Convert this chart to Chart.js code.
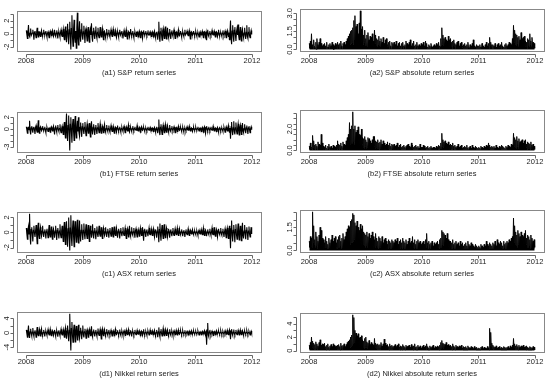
<!DOCTYPE html>
<html>
<head>
<meta charset="utf-8">
<script src="https://cdn.jsdelivr.net/npm/chart.js@4.4.1/dist/chart.umd.min.js"></script>
<style>
  html, body { margin: 0; padding: 0; background: #fff; }
  #wrap { position: relative; width: 550px; height: 382px; overflow: hidden; }
  canvas { position: absolute; }
</style>
</head>
<body>
<div id="wrap"></div>
<script>
// returns, two values a week, Jan 2008 - Dec 2011, one row per quarter
const spRet = [
  0.5, -0.1, -0.7, 0.2, 1.3, -0.2, -0.4, 0.1, 0.8, -0.3, -0.3, 0.1, 0.6, 0.0, -0.9, 0.2, 0.4, -0.1, -0.6, 0.2, 0.9, -0.1, -0.5, 0.3, 0.3, -0.2,
  -0.4, 0.1, 0.5, -0.2, -0.3, 0.1, 0.6, -0.1, -0.2, 0.2, 0.4, -0.1, -0.5, 0.1, 0.3, -0.2, -0.6, 0.1, 0.4, 0.0, -0.3, 0.2, 0.5, -0.1, -0.4, 0.1,
  0.6, -0.2, -0.4, 0.1, 0.5, -0.1, -0.7, 0.2, 0.3, -0.1, -0.5, 0.2, 0.6, -0.2, -0.4, 0.1, 0.7, -0.3, -0.9, 0.2, 1.1, -0.3, -1.3, 0.4, 1.5, -0.5,
  -1.6, 0.6, 1.8, -0.4, -2.4, 0.8, 2.8, -0.5, -1.9, 0.7, 2.1, -0.6, -1.3, 0.4, -2.2, 0.9, 3.2, -0.7, -1.7, 0.5, 1.9, -0.4, -1.2, 0.6, 1.6, -0.3,
  -0.9, 0.3, 1.2, -0.2, -1.4, 0.5, 0.8, -0.3, -1.1, 0.2, 1.0, -0.4, -1.3, 0.3, 0.7, -0.2, 1.6, -0.5, -1.2, 0.3, 0.9, -0.2, -0.8, 0.4, 1.1, -0.3,
  -0.7, 0.2, 0.9, -0.3, -0.6, 0.1, 1.0, -0.2, -0.5, 0.2, 0.8, -0.1, -0.9, 0.3, 0.4, -0.2, -0.6, 0.1, 0.7, -0.2, -0.3, 0.1, 0.6, -0.2, -0.5, 0.1,
  0.6, -0.1, -0.4, 0.2, 0.7, -0.1, -0.3, 0.1, 0.5, -0.2, -0.6, 0.1, 0.3, -0.1, -0.5, 0.2, 0.6, -0.1, -0.3, 0.2, 0.4, -0.1, -0.7, 0.1, 0.5, -0.2,
  -0.4, 0.1, 0.6, -0.2, -0.8, 0.1, 0.3, -0.1, -0.5, 0.2, 0.7, -0.1, -0.3, 0.1, 0.4, -0.2, -0.6, 0.1, 0.3, -0.1, -0.4, 0.2, 0.3, -0.1, -0.5, 0.1,
  0.4, -0.1, -0.6, 0.1, 0.3, -0.1, -0.7, 0.2, 0.5, -0.1, -0.2, 0.1, 0.4, -0.1, -0.3, 0.1, 0.5, -0.2, -0.2, 0.1, 0.3, -0.1, -0.4, 0.1, 0.3, -0.1,
  -0.5, 0.1, 0.4, -0.2, -0.6, 0.1, 0.3, -0.2, -0.9, 0.3, 1.8, -0.4, -1.2, 0.3, 0.9, -0.2, -1.0, 0.4, 0.8, -0.2, -0.7, 0.3, 1.1, -0.3, -0.8, 0.2,
  0.9, -0.2, -0.6, 0.1, 0.7, -0.3, -0.8, 0.2, 0.5, -0.1, -0.4, 0.2, 0.6, -0.1, -0.7, 0.2, 0.3, -0.1, -0.5, 0.1, 0.6, -0.2, -0.3, 0.1, 0.4, -0.1,
  -0.5, 0.1, 0.3, -0.1, -0.4, 0.1, 0.6, -0.2, -0.2, 0.1, 0.4, -0.1, -0.3, 0.1, 0.5, -0.1, -0.8, 0.2, 0.3, -0.1, -0.2, 0.1, 0.4, -0.1, -0.3, 0.1,
  0.3, -0.1, -0.4, 0.1, 0.2, -0.1, -0.5, 0.1, 0.3, -0.1, -0.2, 0.1, 0.4, -0.1, -0.6, 0.2, 0.3, -0.1, -0.5, 0.1, -1.0, 0.3, 0.6, -0.2, -0.4, 0.1,
  0.4, -0.1, -0.3, 0.1, 0.5, -0.1, -0.2, 0.1, 0.4, -0.1, -0.5, 0.2, 0.3, -0.1, -0.4, 0.1, 0.6, -0.2, -0.3, 0.1, 0.2, -0.1, -0.4, 0.1, 0.5, -0.1,
  -0.3, 0.1, 0.4, -0.1, -0.6, 0.2, 0.5, -0.1, -0.4, 0.2, -0.9, 0.3, 2.0, -0.6, -1.6, 0.4, 1.3, -0.3, -1.2, 0.5, 1.0, -0.2, -1.1, 0.3, 0.8, -0.2,
  1.4, -0.3, -0.9, 0.2, 1.0, -0.4, -1.1, 0.3, 0.7, -0.2, -0.6, 0.1, 0.9, -0.3, -0.8, 0.2, 1.3, -0.4, -0.7, 0.2, 1.0, -0.3, -0.6, 0.1, 0.5, -0.1
];
const ftseRet = [
  0.4, -0.1, -0.7, 0.2, 0.3, -0.1, 1.4, -0.3, -0.9, 0.2, 0.5, -0.1, -0.6, 0.2, 0.4, -0.1, -0.8, 0.3, 0.6, -0.2, -0.5, 0.1, 1.5, -0.4, -0.7, 0.2,
  0.4, -0.1, -0.3, 0.1, 0.5, -0.1, -0.2, 0.1, 0.4, -0.2, -0.6, 0.1, 0.3, -0.1, -0.4, 0.1, 0.2, -0.1, -0.5, 0.2, 0.4, -0.1, -0.3, 0.1, 0.5, -0.1,
  -0.9, 0.2, 0.6, -0.1, -0.5, 0.2, 0.7, -0.1, -0.4, 0.1, 0.8, -0.2, -0.6, 0.1, 0.5, -0.2, -0.9, 0.3, 1.2, -0.3, -1.5, 0.4, 2.6, -0.5, -2.0, 0.6,
  2.3, -0.6, -3.6, 0.8, 2.0, -0.5, -2.3, 0.7, 1.7, -0.4, -1.9, 0.6, 2.2, -0.5, -1.5, 0.3, 1.4, -0.4, 2.0, -0.6, -1.2, 0.3, 1.1, -0.2, -1.3, 0.4,
  1.0, -0.2, -0.8, 0.3, 1.2, -0.3, -1.1, 0.2, 0.9, -0.2, -0.7, 0.1, 1.0, -0.3, -1.3, 0.4, 1.3, -0.2, -0.9, 0.3, 0.8, -0.2, -1.0, 0.2, 0.7, -0.1,
  -0.8, 0.2, 1.0, -0.1, -0.6, 0.2, 0.9, -0.2, -0.7, 0.1, 0.5, -0.1, -0.6, 0.2, 0.8, -0.2, -0.5, 0.1, 0.7, -0.1, -0.4, 0.1, 0.6, -0.2, -0.5, 0.1,
  0.6, -0.1, -0.4, 0.1, 0.5, -0.2, -0.7, 0.1, 0.3, -0.1, -0.5, 0.2, 0.6, -0.1, -0.3, 0.1, 0.4, -0.1, -0.5, 0.1, 0.3, -0.1, -0.4, 0.2, 0.5, -0.1,
  -0.6, 0.1, 0.4, -0.1, -0.3, 0.1, 0.7, -0.2, -0.5, 0.1, 0.3, -0.1, -0.4, 0.1, 0.5, -0.1, -0.3, 0.1, 0.4, -0.1, -0.2, 0.1, 0.6, -0.2, -0.3, 0.1,
  0.3, -0.1, -0.5, 0.1, 0.4, -0.1, -0.2, 0.1, 0.3, -0.1, -0.4, 0.1, 0.2, -0.1, -0.3, 0.1, 0.4, -0.1, -0.2, 0.1, 0.3, -0.1, -0.3, 0.1, 0.2, -0.1,
  -0.4, 0.1, 0.3, -0.1, -0.5, 0.1, 0.4, -0.2, -0.7, 0.2, 1.6, -0.4, -1.0, 0.3, 0.8, -0.2, -0.9, 0.2, 0.7, -0.1, -0.6, 0.2, 0.8, -0.2, -0.5, 0.1,
  0.6, -0.1, -0.5, 0.1, 0.7, -0.2, -0.4, 0.1, 0.5, -0.1, -0.3, 0.1, 0.4, -0.1, -0.6, 0.2, 0.3, -0.1, -0.4, 0.1, 0.5, -0.1, -0.2, 0.1, 0.3, -0.1,
  -0.4, 0.1, 0.3, -0.1, -0.5, 0.1, 0.2, -0.1, -0.3, 0.1, 0.4, -0.1, -0.2, 0.1, 0.5, -0.1, -0.3, 0.1, 0.2, -0.1, -0.4, 0.1, 0.3, -0.1, -0.2, 0.1,
  0.3, -0.1, -0.2, 0.1, 0.4, -0.1, -0.3, 0.1, 0.2, -0.1, -0.4, 0.1, 0.3, -0.1, -0.5, 0.1, 0.4, -0.1, -0.7, 0.2, 0.5, -0.1, -0.3, 0.1, 0.4, -0.1,
  -0.3, 0.1, 0.4, -0.1, -0.2, 0.1, 0.5, -0.1, -0.3, 0.1, 0.2, -0.1, -0.4, 0.1, 0.3, -0.1, -0.5, 0.1, 0.4, -0.1, -0.3, 0.1, 0.2, -0.1, -0.4, 0.1,
  0.3, -0.1, -0.5, 0.1, 0.4, -0.1, -0.3, 0.1, 0.6, -0.2, -0.5, 0.2, -1.6, 0.4, 1.2, -0.3, -1.0, 0.2, 1.3, -0.4, -0.9, 0.2, 1.1, -0.3, -0.8, 0.2,
  0.9, -0.2, -1.0, 0.3, 0.7, -0.2, -0.9, 0.2, 1.0, -0.3, -0.6, 0.1, 0.8, -0.2, -0.7, 0.2, 0.6, -0.1, -0.8, 0.2, 0.5, -0.1, -0.6, 0.1, 0.4, -0.1
];
const asxRet = [
  0.6, -0.2, -0.9, 0.3, 0.8, -0.2, 2.5, -0.5, -1.6, 0.4, 0.7, -0.2, -1.2, 0.3, 0.9, -0.1, -0.6, 0.2, 1.0, -0.3, -1.5, 0.4, 1.3, -0.3, -0.8, 0.2,
  0.7, -0.1, -0.5, 0.2, 0.9, -0.2, -0.6, 0.1, 0.4, -0.1, -0.8, 0.2, 0.5, -0.1, -0.7, 0.2, 1.0, -0.3, -0.6, 0.1, 0.8, -0.2, -0.9, 0.2, 0.5, -0.1,
  -0.7, 0.2, 0.9, -0.2, -1.0, 0.3, 0.6, -0.1, -0.8, 0.2, 1.1, -0.3, -0.7, 0.2, 0.9, -0.2, -1.2, 0.3, 1.4, -0.4, -1.6, 0.5, 1.5, -0.4, -1.9, 0.5,
  2.0, -0.5, -2.4, 0.6, 2.3, -0.7, -1.8, 0.4, 1.6, -0.5, -1.9, 0.6, 1.5, -0.3, -1.3, 0.4, 1.7, -0.5, -1.4, 0.3, 1.6, -0.4, -1.2, 0.3, 1.1, -0.2,
  -1.0, 0.3, 1.2, -0.2, -0.9, 0.2, 1.1, -0.3, -0.8, 0.2, 1.0, -0.2, -1.2, 0.3, 0.9, -0.1, -0.7, 0.2, 1.1, -0.3, -0.8, 0.2, 0.6, -0.1, -0.9, 0.2,
  0.8, -0.2, -0.6, 0.1, 0.9, -0.2, -0.5, 0.1, 0.7, -0.2, -0.8, 0.2, 0.6, -0.1, -0.4, 0.1, 0.7, -0.2, -0.6, 0.1, 0.5, -0.1, -0.7, 0.2, 0.6, -0.1,
  -0.5, 0.1, 0.7, -0.2, -0.6, 0.1, 0.8, -0.2, -0.4, 0.1, 0.6, -0.1, -0.7, 0.2, 0.5, -0.1, -0.8, 0.2, 0.6, -0.1, -0.5, 0.1, 0.7, -0.2, -0.4, 0.1,
  0.6, -0.1, -0.8, 0.2, 0.5, -0.1, -0.6, 0.2, 0.9, -0.2, -0.5, 0.1, 0.7, -0.2, -0.4, 0.1, 0.6, -0.1, -0.7, 0.2, 0.5, -0.1, -0.6, 0.1, 0.4, -0.1,
  -0.5, 0.1, 0.6, -0.1, -0.4, 0.1, 0.7, -0.2, -1.1, 0.3, 0.5, -0.1, -0.6, 0.2, 0.4, -0.1, -0.5, 0.1, 0.6, -0.2, -0.3, 0.1, 0.5, -0.1, -0.4, 0.1,
  0.5, -0.1, -0.6, 0.2, 0.4, -0.1, -0.7, 0.2, 0.8, -0.2, -1.3, 0.4, 1.2, -0.3, -1.1, 0.3, 1.0, -0.2, -0.8, 0.2, 1.1, -0.3, -0.7, 0.2, 0.6, -0.1,
  -0.6, 0.1, 0.5, -0.1, -0.7, 0.2, 0.4, -0.1, -0.5, 0.1, 0.6, -0.2, -0.4, 0.1, 0.5, -0.1, -0.3, 0.1, 0.6, -0.1, -0.4, 0.1, 0.5, -0.1, -0.3, 0.1,
  0.4, -0.1, -0.5, 0.1, 0.3, -0.1, -0.6, 0.1, 0.4, -0.1, -0.3, 0.1, 0.5, -0.1, -0.4, 0.1, 0.3, -0.1, -0.2, 0.1, 0.4, -0.1, -0.3, 0.1, 0.2, -0.1,
  -0.3, 0.1, 0.2, -0.1, -0.4, 0.1, 0.3, -0.1, -0.2, 0.1, 0.4, -0.1, -0.3, 0.1, 0.6, -0.2, -0.4, 0.1, 0.3, -0.1, -0.5, 0.1, 0.4, -0.1, -0.3, 0.1,
  0.5, -0.1, -0.4, 0.1, 0.6, -0.2, -0.3, 0.1, 0.7, -0.2, -0.5, 0.1, 0.4, -0.1, -0.6, 0.2, 0.5, -0.1, -0.3, 0.1, 0.6, -0.2, -0.4, 0.1, 0.5, -0.1,
  -0.6, 0.1, 0.5, -0.2, -0.7, 0.2, 0.6, -0.1, -0.8, 0.2, 0.9, -0.3, -2.1, 0.5, 1.6, -0.4, -1.2, 0.3, 1.0, -0.2, -1.3, 0.4, 1.1, -0.3, -0.9, 0.2,
  1.2, -0.3, -1.0, 0.2, 0.9, -0.2, -1.1, 0.3, 1.3, -0.4, -0.8, 0.2, 1.0, -0.2, -0.9, 0.3, 0.7, -0.1, -1.0, 0.2, 0.8, -0.2, -0.6, 0.1, 0.7, -0.2
];
const nikkeiRet = [
  0.8, -0.2, -1.2, 0.3, 2.0, -0.5, -1.4, 0.3, 1.1, -0.2, -0.9, 0.2, 1.3, -0.3, -1.0, 0.2, 0.7, -0.1, -1.2, 0.3, 1.6, -0.4, -0.8, 0.2, 1.0, -0.2,
  -0.9, 0.2, 1.1, -0.3, -0.6, 0.1, 0.8, -0.2, -1.0, 0.2, 0.5, -0.1, -0.7, 0.2, 0.9, -0.2, -0.6, 0.1, 1.0, -0.3, -0.8, 0.2, 0.6, -0.1, -0.7, 0.2,
  0.8, -0.2, -0.9, 0.2, 0.6, -0.1, -1.1, 0.3, 0.7, -0.2, -0.8, 0.2, 1.0, -0.3, -0.6, 0.1, 0.9, -0.2, -1.2, 0.3, 1.4, -0.4, -1.6, 0.5, 2.0, -0.6,
  -2.3, 0.7, 5.3, -1.0, -4.9, 1.2, 3.0, -0.8, -2.6, 0.6, 2.2, -0.5, -2.5, 0.7, 1.9, -0.4, -2.0, 0.5, 2.2, -0.6, -1.6, 0.4, 1.4, -0.3, -1.8, 0.5,
  2.0, -0.5, -1.3, 0.3, 1.1, -0.2, -1.5, 0.4, 0.9, -0.2, -1.2, 0.3, 1.0, -0.2, -0.8, 0.2, 1.8, -0.5, -1.1, 0.3, 0.9, -0.2, -1.0, 0.2, 0.8, -0.2,
  -0.9, 0.2, 1.2, -0.3, -0.7, 0.2, 1.0, -0.2, -1.7, 0.4, 1.1, -0.3, -0.8, 0.2, 0.9, -0.2, -0.6, 0.1, 1.0, -0.2, -0.7, 0.2, 0.8, -0.2, -0.6, 0.1,
  0.7, -0.2, -0.9, 0.2, 0.6, -0.1, -0.8, 0.2, 1.0, -0.3, -0.5, 0.1, 0.7, -0.2, -0.6, 0.1, 0.9, -0.2, -0.7, 0.2, 0.5, -0.1, -0.8, 0.2, 0.6, -0.1,
  -0.7, 0.2, 0.8, -0.2, -0.5, 0.1, 0.9, -0.2, -0.6, 0.1, 0.7, -0.2, -1.0, 0.3, 0.5, -0.1, -0.6, 0.1, 0.8, -0.2, -0.5, 0.1, 0.7, -0.2, -0.4, 0.1,
  0.6, -0.1, -0.8, 0.2, 0.5, -0.1, -0.7, 0.2, 1.0, -0.3, -0.6, 0.1, 0.4, -0.1, -0.7, 0.2, 0.5, -0.1, -0.6, 0.1, 0.8, -0.2, -0.4, 0.1, 0.6, -0.1,
  -0.5, 0.1, 0.7, -0.2, -0.6, 0.1, 0.8, -0.2, -1.2, 0.3, 1.5, -0.4, -1.1, 0.3, 1.0, -0.2, -0.9, 0.2, 1.2, -0.3, -0.8, 0.2, 0.9, -0.2, -0.7, 0.2,
  0.8, -0.2, -0.6, 0.1, 1.0, -0.3, -0.7, 0.2, 0.5, -0.1, -0.8, 0.2, 0.6, -0.1, -0.5, 0.1, 0.7, -0.2, -0.6, 0.1, 0.8, -0.2, -0.4, 0.1, 0.6, -0.1,
  -0.5, 0.1, 0.6, -0.1, -0.4, 0.1, 0.7, -0.2, -0.5, 0.1, 0.4, -0.1, -0.6, 0.1, 0.5, -0.1, -0.3, 0.1, 0.6, -0.1, -0.4, 0.1, 0.5, -0.1, -0.3, 0.1,
  0.4, -0.1, -0.3, 0.1, 0.5, -0.1, -0.6, 0.1, 0.3, -0.1, -0.5, 0.1, 0.4, -0.1, -0.3, 0.1, 0.6, -0.1, -0.4, 0.1, -3.3, 0.8, 2.7, -0.6, -1.1, 0.3,
  0.8, -0.2, -0.6, 0.1, 0.5, -0.1, -0.7, 0.2, 0.4, -0.1, -0.5, 0.1, 0.6, -0.1, -0.3, 0.1, 0.5, -0.1, -0.4, 0.1, 0.6, -0.1, -0.5, 0.1, 0.4, -0.1,
  -0.5, 0.1, 0.6, -0.1, -0.4, 0.1, 0.7, -0.2, -0.5, 0.1, 0.8, -0.2, -1.8, 0.4, 1.0, -0.2, -0.7, 0.2, 0.9, -0.2, -0.6, 0.1, 0.8, -0.2, -0.5, 0.1,
  0.7, -0.1, -0.6, 0.1, 0.8, -0.2, -0.5, 0.1, 0.6, -0.1, -0.7, 0.2, 0.5, -0.1, -0.4, 0.1, 0.6, -0.1, -0.5, 0.1, 0.4, -0.1, -0.6, 0.1, 0.5, -0.1
];

const yearTicks = [2008, 2009, 2010, 2011, 2012];

// y ticks and the labels R kept (overlapping ones dropped)
const spTicks = [-2, -1, 0, 1, 2, 3];
const spTickLabels = ['-2', '', '0', '', '2', ''];
const spAbsTicks = [0, 0.5, 1, 1.5, 2, 2.5, 3];
const spAbsTickLabels = ['0.0', '', '', '1.5', '', '', '3.0'];
const ftseTicks = [-3, -2, -1, 0, 1, 2];
const ftseTickLabels = ['-3', '', '', '0', '', '2'];
const ftseAbsTicks = [0, 0.5, 1, 1.5, 2, 2.5, 3, 3.5];
const ftseAbsTickLabels = ['0.0', '', '', '', '2.0', '', '', ''];
const asxTicks = [-2, -1, 0, 1, 2];
const asxTickLabels = ['-2', '', '0', '', '2'];
const asxAbsTicks = [0, 0.5, 1, 1.5, 2, 2.5];
const asxAbsTickLabels = ['0.0', '', '', '1.5', '', ''];
const nikkeiTicks = [-4, -2, 0, 2, 4];
const nikkeiTickLabels = ['-4', '', '0', '', '4'];
const nikkeiAbsTicks = [0, 1, 2, 3, 4, 5];
const nikkeiAbsTickLabels = ['0', '', '2', '', '4', ''];

// half-week steps through 2008-2011
const times = spRet.map((v, i) => 2008 + (i + 0.5) / 104);

const panels = [
  { title: '(a1) S&P return series', values: spRet, ticks: spTicks, labels: spTickLabels },
  { title: '(a2) S&P absolute return series', values: spRet.map(Math.abs), ticks: spAbsTicks, labels: spAbsTickLabels, abs: true },
  { title: '(b1) FTSE return series', values: ftseRet, ticks: ftseTicks, labels: ftseTickLabels },
  { title: '(b2) FTSE absolute return series', values: ftseRet.map(Math.abs), ticks: ftseAbsTicks, labels: ftseAbsTickLabels, abs: true },
  { title: '(c1) ASX return series', values: asxRet, ticks: asxTicks, labels: asxTickLabels },
  { title: '(c2) ASX absolute return series', values: asxRet.map(Math.abs), ticks: asxAbsTicks, labels: asxAbsTickLabels, abs: true },
  { title: '(d1) Nikkei return series', values: nikkeiRet, ticks: nikkeiTicks, labels: nikkeiTickLabels },
  { title: '(d2) Nikkei absolute return series', values: nikkeiRet.map(Math.abs), ticks: nikkeiAbsTicks, labels: nikkeiAbsTickLabels, abs: true }
];

const font = { family: '"Liberation Sans", Arial, sans-serif', size: 7.5 };
const textColor = '#222';
const rowTops = [0, 101, 201, 301];
const wrap = document.getElementById('wrap');
const measure = document.createElement('canvas').getContext('2d');
measure.font = '7.5px "Liberation Sans"';

// R style: box around plot region, axes drawn a bit outside it
const rAxes = {
  id: 'rAxes',
  afterDraw(chart) {
    const { ctx, chartArea: a, scales: { x, y } } = chart;
    ctx.save();
    ctx.lineWidth = 1;
    ctx.strokeStyle = '#888';
    ctx.strokeRect(Math.round(a.left) + 0.5, Math.round(a.top) + 0.5,
      Math.round(a.right - a.left), Math.round(a.bottom - a.top));
    ctx.strokeStyle = '#666';
    ctx.beginPath();
    const ya = Math.round(a.bottom) + 3.5;
    const xs = x.ticks.map(t => Math.round(x.getPixelForValue(t.value)) + 0.5);
    ctx.moveTo(xs[0], ya);
    ctx.lineTo(xs[xs.length - 1], ya);
    xs.forEach(px => { ctx.moveTo(px, ya); ctx.lineTo(px, ya + 3); });
    const xa = Math.round(a.left) - 3.5;
    const ys = y.ticks.map(t => Math.round(y.getPixelForValue(t.value)) + 0.5);
    ctx.moveTo(xa, ys[0]);
    ctx.lineTo(xa, ys[ys.length - 1]);
    ys.forEach(py => { ctx.moveTo(xa, py); ctx.lineTo(xa - 3, py); });
    ctx.stroke();
    ctx.restore();
  }
};

panels.forEach((p, k) => {
  const col = k % 2, row = Math.floor(k / 2);
  const canvas = document.createElement('canvas');
  canvas.width = 275;
  canvas.height = 100;
  canvas.style.left = (col * 275) + 'px';
  canvas.style.top = rowTops[row] + 'px';
  wrap.appendChild(canvas);

  const lo = p.abs ? 0 : Math.min(...p.values);
  const hi = Math.max(...p.values);
  const pad = (hi - lo) * 0.04;
  const boxLeft = col ? 25 : 17;
  const widest = Math.max(...p.labels.map(l => measure.measureText(l).width));

  new Chart(canvas, {
    type: 'line',
    data: {
      datasets: [{
        data: p.values.map((v, i) => ({ x: times[i], y: v })),
        borderColor: '#000',
        backgroundColor: '#000',
        borderWidth: p.abs ? 0.9 : 1.1,
        pointRadius: 0,
        tension: 0,
        fill: p.abs ? 'origin' : false
      }]
    },
    options: {
      responsive: false,
      animation: false,
      events: [],
      layout: { padding: { top: 9, right: col ? 6 : 14, left: 0, bottom: 0 } },
      plugins: { legend: { display: false }, tooltip: { enabled: false } },
      scales: {
        x: {
          type: 'linear',
          min: 2008 - 0.16,
          max: 2012 + 0.16,
          afterBuildTicks: s => { s.ticks = yearTicks.map(v => ({ value: v })); },
          afterFit: s => { s.height = 49; },
          grid: { display: false, drawTicks: false },
          border: { display: false },
          ticks: { padding: 5, font, color: textColor, maxRotation: 0, autoSkip: false, callback: v => String(v) },
          title: { display: true, text: p.title, font, color: textColor, padding: { top: 0, bottom: 22.5 } }
        },
        y: {
          type: 'linear',
          min: lo - pad,
          max: hi + pad,
          afterBuildTicks: s => { s.ticks = p.ticks.map(v => ({ value: v })); },
          afterFit: s => { s.width = boxLeft; },
          grid: { display: false, drawTicks: false },
          border: { display: false },
          ticks: {
            padding: 10 - widest / 2,
            font, color: textColor,
            minRotation: 90, maxRotation: 90,
            crossAlign: 'center',
            autoSkip: false,
            callback: (v, i) => p.labels[i]
          }
        }
      }
    },
    plugins: [rAxes]
  });
});
</script>
</body>
</html>
